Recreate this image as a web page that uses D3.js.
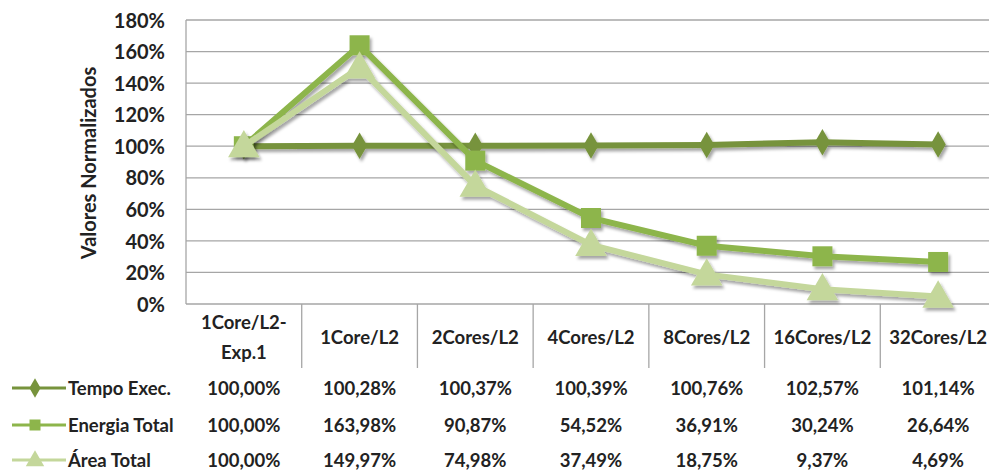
<!DOCTYPE html>
<html><head><meta charset="utf-8">
<script src="https://cdn.jsdelivr.net/npm/d3@7"></script>
<style>body{margin:0;background:#fff}svg{display:block}</style>
</head><body>
<script>
const categories = [["1Core/L2-","Exp.1"],["1Core/L2"],["2Cores/L2"],["4Cores/L2"],["8Cores/L2"],["16Cores/L2"],["32Cores/L2"]];
const seriesNames = ["Tempo Exec.","Energia Total","Área Total"];
const tempo = [100.00,100.28,100.37,100.39,100.76,102.57,101.14];
const energia = [100.00,163.98,90.87,54.52,36.91,30.24,26.64];
const area = [100.00,149.97,74.98,37.49,18.75,9.37,4.69];
const yTicks = [0,20,40,60,80,100,120,140,160,180];
const colors = ["#77933C","#8DB54B","#C4D79B"];
const markers = ["diamond","square","triangle"];
const series = [tempo, energia, area];

(function(){
const W=989,H=472;
const svg=d3.select("body").append("svg").attr("width",W).attr("height",H);
const defs=svg.append("defs");
const f=defs.append("filter").attr("id","sh").attr("x","-20%").attr("y","-20%").attr("width","140%").attr("height","140%");
f.append("feDropShadow").attr("dx",2).attr("dy",3).attr("stdDeviation",1.5).attr("flood-color","#000").attr("flood-opacity",0.35);

const pl=186,pr=996,pt=20,pb=304;
const x=d3.scaleBand().domain(d3.range(categories.length)).range([pl,pr]);
const y=d3.scaleLinear().domain([0,180]).range([pb,pt]);
const font="Lato, 'Open Sans', sans-serif";
const tfs=18.5;

svg.append("g").selectAll("line").data(yTicks).join("line")
  .attr("x1",pl).attr("x2",pr).attr("y1",d=>y(d)).attr("y2",d=>y(d))
  .attr("stroke","#a6a6a6").attr("stroke-width",1.3);
svg.append("line").attr("x1",pl).attr("x2",pl).attr("y1",pt).attr("y2",pb).attr("stroke","#a6a6a6").attr("stroke-width",1.3);

const ya=svg.append("g").attr("transform",`translate(${pl-21},0)`)
  .call(d3.axisLeft(y).tickValues(yTicks).tickSize(0).tickFormat(d=>d+"%"));
ya.select(".domain").remove();
ya.selectAll("text").attr("font-family",font).attr("font-size",20).attr("font-weight","bold").attr("fill","#222").attr("x",0).attr("dy","0.36em");

svg.append("text").attr("transform",`translate(96,${163}) rotate(-90)`)
  .attr("text-anchor","middle").attr("font-family",font).attr("font-size",20).attr("font-weight","bold").attr("fill","#222")
  .text("Valores Normalizados");

svg.append("g").selectAll("line").data(d3.range(1,categories.length)).join("line")
  .attr("x1",d=>x(d)).attr("x2",d=>x(d)).attr("y1",pb).attr("y2",368)
  .attr("stroke","#a6a6a6").attr("stroke-width",1.3);

const cl=svg.append("g").selectAll("text").data(categories).join("text")
  .attr("x",(d,i)=>x(i)+x.bandwidth()/2).attr("text-anchor","middle")
  .attr("font-family",font).attr("font-size",tfs).attr("font-weight","bold").attr("fill","#222");
cl.each(function(d){
  const t=d3.select(this);
  if(d.length===1){t.append("tspan").attr("y",344).text(d[0]);}
  else{t.append("tspan").attr("y",329).text(d[0]);t.append("tspan").attr("x",t.attr("x")).attr("y",359).text(d[1]);}
});

function markerPath(type,s){
  if(type==="diamond") return d3.symbol(d3.symbolDiamond,s*s*0.9)();
  if(type==="square") return d3.symbol(d3.symbolSquare,s*s)();
  return d3.symbol(d3.symbolTriangle,s*s*0.75)();
}

const line=d3.line().x((d,i)=>x(i)+x.bandwidth()/2).y(d=>y(d));
series.forEach((vals,k)=>{
  const g=svg.append("g").attr("filter","url(#sh)");
  g.append("path").attr("d",line(vals)).attr("fill","none").attr("stroke",colors[k]).attr("stroke-width",6).attr("stroke-linejoin","miter");
  g.selectAll("path.m").data(vals).join("path").attr("class","m")
    .attr("transform",(d,i)=>`translate(${x(i)+x.bandwidth()/2},${y(d)+(markers[k]==="triangle"?2:0)})`)
    .attr("d",markerPath(markers[k],markers[k]==="diamond"?15:(markers[k]==="square"?20:24)))
    .attr("fill",colors[k]);
});

const rowY=[388,425,460];
const fmt=v=>v.toFixed(2).replace(".",",")+"%";
series.forEach((vals,k)=>{
  const ry=rowY[k];
  svg.append("line").attr("x1",12).attr("x2",66).attr("y1",ry).attr("y2",ry).attr("stroke",colors[k]).attr("stroke-width",3);
  svg.append("path").attr("transform",`translate(35,${ry+(markers[k]==="triangle"?1:0)})`)
    .attr("d",markerPath(markers[k],markers[k]==="diamond"?11:(markers[k]==="square"?11:14))).attr("fill",colors[k]);
  svg.append("text").attr("x",68).attr("y",ry).attr("dy","0.36em").attr("font-family",font).attr("font-size",tfs).attr("font-weight","bold").attr("fill","#222").text(seriesNames[k]);
  svg.append("g").selectAll("text").data(vals).join("text")
    .attr("x",(d,i)=>x(i)+x.bandwidth()/2).attr("y",ry).attr("dy","0.36em").attr("text-anchor","middle")
    .attr("font-family",font).attr("font-size",tfs).attr("font-weight","bold").attr("fill","#222").text(fmt);
});
})();
</script>
</body></html>
